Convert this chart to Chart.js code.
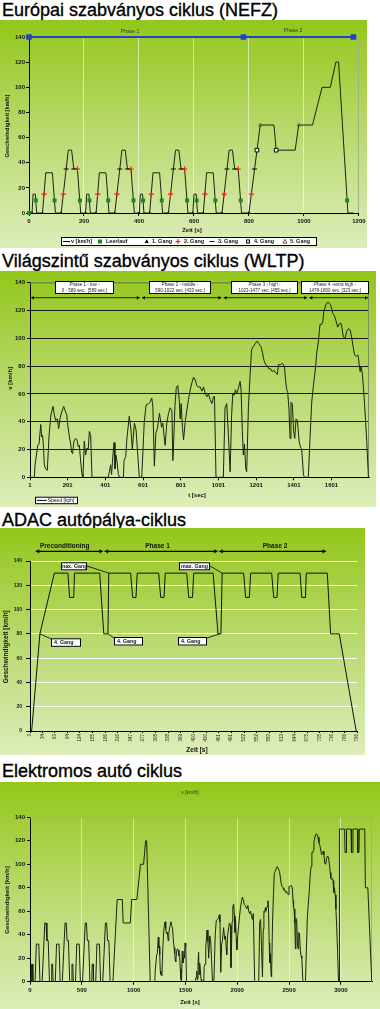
<!DOCTYPE html>
<html lang="hu">
<head>
<meta charset="utf-8">
<title>Menetciklusok</title>
<script src="https://cdn.jsdelivr.net/npm/chart.js@4.4.1/dist/chart.umd.min.js"></script>
<style>
  html, body { margin: 0; padding: 0; background: #fff; }
  body { position: relative; width: 380px; height: 1009px; overflow: hidden; font-family: "Liberation Sans", Arial, sans-serif; }
  h2 { position: absolute; left: 2px; margin: 0; font-size: 18px; line-height: 18px; font-weight: normal; color: #000; white-space: nowrap; -webkit-text-stroke: 0.35px #000; }
  .panel { position: absolute; left: 0; background: linear-gradient(to bottom, #93c71a 0%, #b6d867 45%, #ddedba 100%); }
  .panel canvas { display: block; }
</style>
</head>
<body>
<h2 style="top:1px">Európai szabványos ciklus (NEFZ)</h2>
<div class="panel" style="top:20px;width:367px;height:228px"><canvas id="nefz" width="367" height="228"></canvas></div>
<h2 style="top:252px">Világszintű szabványos ciklus (WLTP)</h2>
<div class="panel" style="top:271px;width:376px;height:236px"><canvas id="wltp" width="376" height="236"></canvas></div>
<h2 style="top:511px">ADAC autópálya-ciklus</h2>
<div class="panel" style="top:528px;width:365px;height:227px"><canvas id="adac" width="365" height="227"></canvas></div>
<h2 style="top:762px">Elektromos autó ciklus</h2>
<div class="panel" style="top:782px;width:380px;height:227px"><canvas id="elektro" width="380" height="227"></canvas></div>

<script>
// ---------- NEFZ ----------
const nefzT = [0, 11, 15, 23, 28, 49, 61, 85, 96, 117, 143, 155, 163, 176, 188, 195,
  206, 210, 218, 223, 244, 256, 280, 291, 312, 338, 350, 358, 371, 383, 390,
  401, 405, 413, 418, 439, 451, 475, 486, 507, 533, 545, 553, 566, 578, 585,
  596, 600, 608, 613, 634, 646, 670, 681, 702, 728, 740, 748, 761, 773, 780,
  800, 841, 891, 899, 968, 981, 1031, 1066, 1096, 1116, 1126, 1160, 1180];
const nefzV = [0, 0, 15, 15, 0, 0, 32, 32, 0, 0, 50, 50, 35, 35, 0, 0,
  0, 15, 15, 0, 0, 32, 32, 0, 0, 50, 50, 35, 35, 0, 0,
  0, 15, 15, 0, 0, 32, 32, 0, 0, 50, 50, 35, 35, 0, 0,
  0, 15, 15, 0, 0, 32, 32, 0, 0, 50, 50, 35, 35, 0, 0,
  0, 70, 70, 50, 50, 70, 70, 100, 100, 120, 120, 0, 0];
const nefzTicks = [0, 200, 400, 600, 800, 1000, 1200];
const phaseT = [0, 780, 1180];
const phaseV = [140, 140, 140];
const phaseNames = ['Phase 1', 'Phase 2'];
const leerlaufT = [0, 25, 93, 185, 220, 288, 380, 415, 483, 575, 610, 678, 770, 1157];
const leerlaufV = [0, 10, 10, 10, 10, 10, 10, 10, 10, 10, 10, 10, 10, 10];
const gang1T = [11, 49, 117, 206, 244, 312, 401, 439, 507, 596, 634, 702, 800];
const gang1V = [0, 0, 0, 0, 0, 0, 0, 0, 0, 0, 0, 0, 0];
const gang2T = [55, 125, 176, 250, 320, 371, 445, 515, 566, 640, 710, 761, 809];
const gang2V = [15, 15, 35, 15, 15, 35, 15, 15, 35, 15, 15, 35, 15];
const gang3T = [135, 163, 330, 358, 525, 553, 720, 748, 820];
const gang3V = [35, 35, 35, 35, 35, 35, 35, 35, 35];
const gang4T = [829, 899];
const gang4V = [50, 50];
const gang5T = [841, 981];
const gang5V = [70, 70];
const nefzLegend = ['v [km/h]', 'Leerlauf', '1. Gang', '2. Gang', '3. Gang', '4. Gang', '5. Gang'];

// ---------- WLTP ----------
const wltpT = [
  1, 24, 28, 42, 49, 58, 63, 68, 72, 77, 84, 93, 102, 112, 123,
  130, 137, 146, 153, 160, 169, 180, 187, 196, 201, 210, 217, 222, 227, 234,
  243, 250, 257, 263, 270, 277, 282, 289, 296, 303, 310, 316, 323, 330, 417,
  422, 429, 434, 441, 447, 452, 457, 463, 470, 477, 497, 500, 509, 516, 528,
  537, 544, 555, 564, 571, 581,
  594, 607, 617, 630, 638, 647, 653, 661, 669, 677, 688, 699, 706, 713, 718,
  727, 736, 745, 754, 759, 762, 770, 777, 785, 793, 798, 803, 810, 816, 824,
  833, 842, 851, 860, 869, 878, 886, 895, 904, 913, 922, 931, 940, 948, 957,
  966, 975, 980, 988,
  1027, 1036, 1045, 1054, 1063, 1071, 1077, 1085, 1091, 1098, 1107, 1116, 1121, 1128, 1133,
  1139, 1146, 1151, 1160, 1169, 1177, 1186, 1195, 1206, 1216, 1227, 1234, 1243, 1252, 1262,
  1269, 1278, 1287, 1296, 1305, 1314, 1319, 1329, 1340, 1351, 1358, 1363, 1368, 1375, 1381,
  1386, 1393, 1400, 1406, 1413, 1420, 1429, 1436, 1443, 1452, 1457,
  1478, 1487, 1496, 1505, 1514, 1523, 1532, 1540, 1549, 1555, 1560, 1571, 1581, 1592, 1599,
  1608, 1617, 1624, 1634, 1641, 1650, 1656, 1664, 1673, 1682, 1691, 1700, 1709, 1717, 1723,
  1732, 1741, 1744, 1748, 1753, 1758, 1765, 1772, 1779, 1788, 1797, 1800];
const wltpV = [
  0, 0, 9, 23, 24, 38, 29, 30, 23, 9, 6, 5, 30, 45, 51,
  45, 41, 42, 35, 42, 47, 51, 48, 45, 38, 29, 24, 18, 17, 26,
  28, 27, 22, 23, 11, 2, 0, 26, 16, 21, 20, 33, 30, 0, 0,
  4, 9, 2, 16, 25, 6, 16, 11, 2, 0, 0, 12, 15, 29, 44,
  34, 20, 39, 34, 20, 0,
  0, 39, 52, 53, 54, 57, 51, 8, 32, 35, 46, 36, 39, 29, 23,
  39, 46, 50, 48, 12, 20, 51, 64, 66, 56, 42, 53, 36, 27, 39,
  48, 56, 63, 68, 72, 70, 66, 65, 65, 62, 65, 60, 58, 60, 56,
  53, 58, 58, 0,
  0, 50, 53, 30, 4, 45, 60, 59, 63, 60, 64, 69, 63, 33, 16,
  24, 6, 4, 50, 74, 92, 94, 96, 98, 96, 94, 90, 84, 81, 80,
  78, 78, 76, 77, 75, 74, 81, 81, 82, 80, 69, 63, 62, 50, 28,
  54, 53, 33, 28, 42, 41, 26, 22, 20, 2, 0,
  0, 28, 54, 66, 76, 90, 98, 110, 110, 112, 119, 124, 126, 125, 123,
  118, 116, 113, 108, 110, 111, 108, 101, 100, 105, 107, 106, 100, 93, 88,
  87, 88, 86, 81, 76, 80, 74, 62, 47, 26, 0, 0];
const wltpTicks = [1, 201, 401, 601, 801, 1001, 1201, 1401, 1601];
const wltpPhaseStart = [1, 590, 1023, 1478];
const wltpPhaseEnd = [589, 1022, 1477, 1800];
const wltpPhaseName = ['Phase 1 - low -', 'Phase 2 - middle -', 'Phase 3 - high -', 'Phase 4 -extra high -'];
const wltpPhaseSpan = ['0 - 589 sec.  [589 sec.]', '590-1022 sec. [433 sec.]', '1023-1477 sec. [455 sec.]', '1478-1800 sec. [323 sec.]'];

// ---------- ADAC ----------
const adacT = [3, 7, 27, 62, 95, 99, 109, 111, 172, 182, 192, 194, 247, 252, 260,
  263, 315, 320, 328, 331, 383, 388, 397, 400, 447, 459, 466, 469, 521, 526,
  535, 538, 589, 594, 602, 605, 658, 662, 671, 673, 724, 732, 753, 794];
const adacV = [0, 0, 80, 130, 130, 110, 110, 130, 130, 80, 80, 130, 130, 110, 110,
  130, 130, 110, 110, 130, 130, 110, 110, 130, 130, 80, 80, 130, 130, 110,
  110, 130, 130, 110, 110, 130, 130, 110, 110, 130, 130, 80, 80, 0];
const adacTicks = [3, 34, 63, 94, 124, 155, 186, 216, 247, 277, 308, 338, 369, 400,
  430, 461, 491, 522, 552, 583, 613, 644, 675, 705, 736, 766, 796];
const adacPhaseName = ['Preconditioning', 'Phase 1', 'Phase 2'];
const adacPhaseStart = [17, 184, 462];
const adacPhaseEnd = [180, 458, 721];
const maxGangAt = [194, 469];
const gang4At = [27, 192, 463];

// ---------- Elektromos autó ----------
const hwyT = [2982, 2986, 3036, 3040, 3050, 3054, 3098, 3102, 3112, 3116, 3160, 3164, 3174, 3178, 3230, 3236, 3260, 3298];
const hwyV = [0, 130, 130, 110, 110, 130, 130, 110, 110, 130, 130, 110, 110, 130, 130, 80, 80, 0];
const wltpOffset = 1180;
const elektroT = nefzT.concat(wltpT.map(t => t + wltpOffset), hwyT);
const elektroV = nefzV.concat(wltpV, hwyV);
const elektroTicks = [0, 500, 1000, 1500, 2000, 2500, 3000];

const yTicks = [0, 20, 40, 60, 80, 100, 120, 140];

// ---------- helpers ----------
const FAMILY = '"Liberation Sans", Arial, sans-serif';
Chart.defaults.font.family = FAMILY;
const pts = (xs, ys) => xs.map((x, i) => ({ x, y: ys[i] }));
const LINE = '#1b2410';

function text(ctx, s, x, y, size, o) {
  o = o || {};
  ctx.save();
  ctx.font = (o.bold ? 'bold ' : '') + size + 'px ' + FAMILY;
  ctx.fillStyle = o.color || '#111';
  ctx.textAlign = o.align || 'center';
  ctx.textBaseline = 'middle';
  ctx.translate(x, y);
  if (o.rotate) ctx.rotate(-Math.PI / 2);
  ctx.fillText(s, 0, 0);
  ctx.restore();
}
function arrow(ctx, x1, x2, y, h, w) {
  ctx.save();
  ctx.strokeStyle = ctx.fillStyle = '#000';
  ctx.lineWidth = w;
  ctx.beginPath(); ctx.moveTo(x1, y); ctx.lineTo(x2, y); ctx.stroke();
  ctx.beginPath(); ctx.moveTo(x1, y); ctx.lineTo(x1 + h, y - h * 0.6); ctx.lineTo(x1 + h, y + h * 0.6); ctx.closePath(); ctx.fill();
  ctx.beginPath(); ctx.moveTo(x2, y); ctx.lineTo(x2 - h, y - h * 0.6); ctx.lineTo(x2 - h, y + h * 0.6); ctx.closePath(); ctx.fill();
  ctx.restore();
}
function box(ctx, x, y, w, h) {
  ctx.save();
  ctx.fillStyle = '#fff';
  ctx.fillRect(x, y, w, h);
  ctx.strokeStyle = '#000';
  ctx.lineWidth = 1;
  ctx.strokeRect(x + 0.5, y + 0.5, w - 1, h - 1);
  ctx.restore();
}
function line(ctx, x1, y1, x2, y2, color, w) {
  ctx.save();
  ctx.strokeStyle = color; ctx.lineWidth = w || 1;
  ctx.beginPath(); ctx.moveTo(x1, y1); ctx.lineTo(x2, y2); ctx.stroke();
  ctx.restore();
}
function topRightBorder(chart, color) {
  const a = chart.chartArea;
  line(chart.ctx, a.left, a.top + 0.5, a.right - 0.5, a.top + 0.5, color);
  line(chart.ctx, a.right - 0.5, a.top, a.right - 0.5, a.bottom, color);
}
function marker(ctx, kind, x, y) {
  ctx.save();
  ctx.lineWidth = 1;
  if (kind === 'line') { line(ctx, x - 3.5, y, x + 3.5, y, '#000'); }
  if (kind === 'green') { ctx.fillStyle = '#1d8a1d'; ctx.fillRect(x - 2, y - 2, 4, 4); }
  if (kind === 'tri' || kind === 'otri') {
    ctx.beginPath(); ctx.moveTo(x, y - 2.2); ctx.lineTo(x + 2, y + 1.6); ctx.lineTo(x - 2, y + 1.6); ctx.closePath();
    if (kind === 'tri') { ctx.fillStyle = '#000'; ctx.fill(); } else { ctx.strokeStyle = '#333'; ctx.lineWidth = 0.8; ctx.stroke(); }
  }
  if (kind === 'plus') { line(ctx, x - 2.5, y, x + 2.5, y, '#e8231c', 1.2); line(ctx, x, y - 2.5, x, y + 2.5, '#e8231c', 1.2); }
  if (kind === 'dash') { line(ctx, x - 2.5, y, x + 2.5, y, '#000'); }
  if (kind === 'wsq') { ctx.fillStyle = '#fff'; ctx.fillRect(x - 2, y - 2, 4, 4); ctx.strokeStyle = '#000'; ctx.strokeRect(x - 1.5, y - 1.5, 3, 3); }
  ctx.restore();
}

function xScale(min, max, ticks, height, pad, extra) {
  return Object.assign({
    type: 'linear', min, max,
    afterFit: s => { s.height = height; },
    afterBuildTicks: s => { s.ticks = ticks.map(v => ({ value: v })); },
    border: { color: '#000', width: 1 },
    ticks: { font: { size: 6, weight: 'bold' }, color: '#111', padding: pad, maxRotation: 0, autoSkip: false, callback: v => String(v) },
    grid: { drawOnChartArea: false, tickLength: 3, tickColor: '#000' }
  }, extra || {});
}
function yScale(width, pad, extra) {
  return Object.assign({
    min: 0, max: 140,
    afterFit: s => { s.width = width; },
    afterBuildTicks: s => { s.ticks = yTicks.map(v => ({ value: v })); },
    border: { color: '#000', width: 1 },
    ticks: { font: { size: 6, weight: 'bold' }, color: '#111', padding: pad, callback: v => String(v) },
    grid: { drawOnChartArea: false, tickLength: 3, tickColor: '#000' }
  }, extra || {});
}
function build(id, datasets, x, y, padding, deco) {
  return new Chart(document.getElementById(id), {
    type: 'line',
    data: { datasets },
    options: {
      responsive: false, animation: false, devicePixelRatio: 1, events: [],
      layout: { padding },
      plugins: { legend: { display: false }, tooltip: { enabled: false }, title: { display: false } },
      elements: { line: { tension: 0 }, point: { radius: 0 } },
      scales: { x, y }
    },
    plugins: [deco]
  });
}
function pointSet(xs, ys, style, radius, bg, border, bw) {
  return { data: pts(xs, ys), showLine: false, clip: false, pointStyle: style, pointRadius: radius,
    pointBackgroundColor: bg, pointBorderColor: border, pointBorderWidth: bw };
}

// ---------- chart 1: NEFZ ----------
const nefzDeco = {
  id: 'nefzDeco',
  beforeDatasetsDraw(chart) { topRightBorder(chart, '#9fae86'); },
  afterDraw(chart) {
    const ctx = chart.ctx;
    text(ctx, phaseNames[0], 130, 12, 5, { color: '#333' });
    text(ctx, phaseNames[1], 293, 11, 5, { color: '#333' });
    text(ctx, 'Zeit [s]', 192, 210, 6, { bold: true });
    text(ctx, 'Geschwindigkeit [km/h]', 7.3, 106, 5.6, { bold: true, rotate: true });
    box(ctx, 61, 217, 256, 9);
    const kinds = ['line', 'green', 'tri', 'plus', 'dash', 'wsq', 'otri'];
    const mx = [66.5, 100, 146.7, 178, 212, 248, 285];
    const tx = [71, 106, 152, 184, 218, 254, 290];
    nefzLegend.forEach((s, i) => {
      marker(ctx, kinds[i], mx[i], 221.5);
      text(ctx, s, tx[i], 221.7, 5.5, { bold: true, align: 'left' });
    });
  }
};
build('nefz', [
  pointSet(leerlaufT, leerlaufV, 'rect', 2.8, '#1d8a1d', '#1d8a1d', 0),
  pointSet(gang1T, gang1V, 'triangle', 1.8, '#000', '#000', 0),
  pointSet(gang2T, gang2V, 'cross', 2.6, '#e8231c', '#e8231c', 1.2),
  pointSet(gang3T, gang3V, 'line', 2.5, '#000', '#000', 1),
  pointSet(gang4T, gang4V, 'rect', 2.6, '#fff', '#000', 1),
  pointSet(gang5T, gang5V, 'triangle', 2, 'rgba(0,0,0,0)', '#555', 0.8),
  { data: pts(phaseT, phaseV), clip: false, borderColor: '#2141c8', borderWidth: 2, pointStyle: 'rect', pointRadius: 2.6,
    pointBackgroundColor: '#2141c8', pointBorderColor: '#2141c8' },
  { data: pts(nefzT, nefzV), borderColor: LINE, borderWidth: 1, pointRadius: 0 }
],
  xScale(0, 1200, nefzTicks, 35, 1.4, {
    grid: { color: c => (c.tick && c.tick.value > 0 && c.tick.value < 1200) ? 'rgba(255,255,255,0.55)' : 'rgba(0,0,0,0)',
      tickLength: 3, tickColor: '#000' }
  }),
  yScale(29, 1),
  { left: 0, top: 17, right: 8, bottom: 0 }, nefzDeco);

// ---------- chart 2: WLTP ----------
const wltpDeco = {
  id: 'wltpDeco',
  beforeDatasetsDraw(chart) { topRightBorder(chart, '#7d8c66'); },
  afterDraw(chart) {
    const ctx = chart.ctx, x = chart.scales.x;
    const boxes = [[55, 114], [149, 211], [231, 298], [301, 369]];
    wltpPhaseName.forEach((s, i) => {
      const [l, r] = boxes[i];
      box(ctx, l, 10, r - l, 13);
      text(ctx, s, (l + r) / 2, 13.6, 4.5, { color: '#222' });
      text(ctx, wltpPhaseSpan[i], (l + r) / 2, 19.6, 4.5, { color: '#222' });
      arrow(ctx, x.getPixelForValue(wltpPhaseStart[i]) + 1, x.getPixelForValue(wltpPhaseEnd[i]) - 1, 26.7, 3, 0.8);
    });
    text(ctx, 't [sec]', 197, 224.7, 6, { bold: true });
    text(ctx, 'v [km/h]', 10, 107.3, 6, { bold: true, rotate: true });
    box(ctx, 35, 225.7, 43, 7.5);
    line(ctx, 36.7, 229.4, 46.7, 229.4, '#000');
    text(ctx, 'Speed [kph]', 47.7, 229.6, 5, { align: 'left' });
  }
};
build('wltp', [
  { data: pts(wltpT, wltpV), borderColor: LINE, borderWidth: 1, pointRadius: 0 }
],
  xScale(1, 1800, wltpTicks, 29.7, 1.1),
  yScale(30, 2, {
    grid: { color: c => { const v = c.tick && c.tick.value; return v === 0 ? 'rgba(0,0,0,0)' : v === 140 ? 'rgba(90,105,70,0.6)' : '#1c1c1c'; },
      tickLength: 3, tickColor: '#000' }
  }),
  { left: 0, top: 11.7, right: 7, bottom: 0 }, wltpDeco);

// ---------- chart 3: ADAC ----------
const adacDeco = {
  id: 'adacDeco',
  afterDraw(chart) {
    const ctx = chart.ctx, x = chart.scales.x, y = chart.scales.y;
    const centers = [64.7, 157.5, 275];
    adacPhaseName.forEach((s, i) => {
      text(ctx, s, centers[i], 18.7, 6.5, { bold: true });
      arrow(ctx, x.getPixelForValue(adacPhaseStart[i]), x.getPixelForValue(adacPhaseEnd[i]), 23.3, 3.5, 1.2);
    });
    // callouts
    const maxBoxes = [[61, 87], [179, 210]];
    maxGangAt.forEach((t, i) => {
      const [l, r] = maxBoxes[i];
      line(ctx, r, 38, x.getPixelForValue(t), y.getPixelForValue(130), '#000', 0.8);
      box(ctx, l, 34.3, r - l, 8);
      text(ctx, 'max. Gang', (l + r) / 2, 38.5, 5.3, { bold: true });
    });
    const g4Boxes = [[51, 81, 110.3, 52], [114, 143, 109, 114], [178, 207, 109, 207]];
    gang4At.forEach((t, i) => {
      const [l, r, top, lx] = g4Boxes[i];
      line(ctx, lx, top + 1, x.getPixelForValue(t), y.getPixelForValue(80), '#000', 0.8);
      box(ctx, l, top, r - l, 8.5);
      text(ctx, '4. Gang', l + 3, top + 4.4, 5.3, { bold: true, align: 'left' });
    });
    text(ctx, 'Zeit [s]', 197, 222, 6.5, { bold: true });
    text(ctx, 'Geschwindigkeit [km/h]', 6.7, 118.7, 6.5, { bold: true, rotate: true });
  }
};
build('adac', [
  { data: pts(adacT, adacV), borderColor: '#111', borderWidth: 1, pointRadius: 0 }
],
  xScale(3, 796, adacTicks, 24, 1, {
    ticks: { font: { size: 4.5 }, color: '#222', padding: 1, minRotation: 90, maxRotation: 90, autoSkip: false, callback: v => String(v) },
    grid: { drawOnChartArea: false, tickLength: 2, tickColor: '#000' }
  }),
  yScale(30, 4, {
    ticks: { font: { size: 5, weight: 'bold' }, color: '#222', padding: 4, callback: v => String(v) },
    grid: { color: c => (c.tick && c.tick.value === 0) ? 'rgba(0,0,0,0)' : 'rgba(255,255,255,0.95)', tickLength: 4, tickColor: '#000' }
  }),
  { left: 0, top: 33, right: 8, bottom: 0 }, adacDeco);

// ---------- chart 4: Elektromos autó ----------
const elektroDeco = {
  id: 'elektroDeco',
  beforeDatasetsDraw(chart) { topRightBorder(chart, '#9fae86'); },
  afterDraw(chart) {
    const ctx = chart.ctx;
    text(ctx, 'v [km/h]', 190, 10.3, 5, { color: '#333' });
    text(ctx, 'Zeit [s]', 190, 220.3, 6, { bold: true });
    text(ctx, 'Geschwindigkeit [km/h]', 7.3, 118, 6, { bold: true, rotate: true });
  }
};
build('elektro', [
  { data: pts(elektroT, elektroV), borderColor: LINE, borderWidth: 1, pointRadius: 0 }
],
  xScale(0, 3300, elektroTicks, 27.3, 2.4, {
    grid: { color: c => (c.tick && c.tick.value > 0) ? 'rgba(255,255,255,0.5)' : 'rgba(0,0,0,0)', tickLength: 3, tickColor: '#000' }
  }),
  yScale(30, 2),
  { left: 0, top: 35.3, right: 8, bottom: 0 }, elektroDeco);
</script>
</body>
</html>
